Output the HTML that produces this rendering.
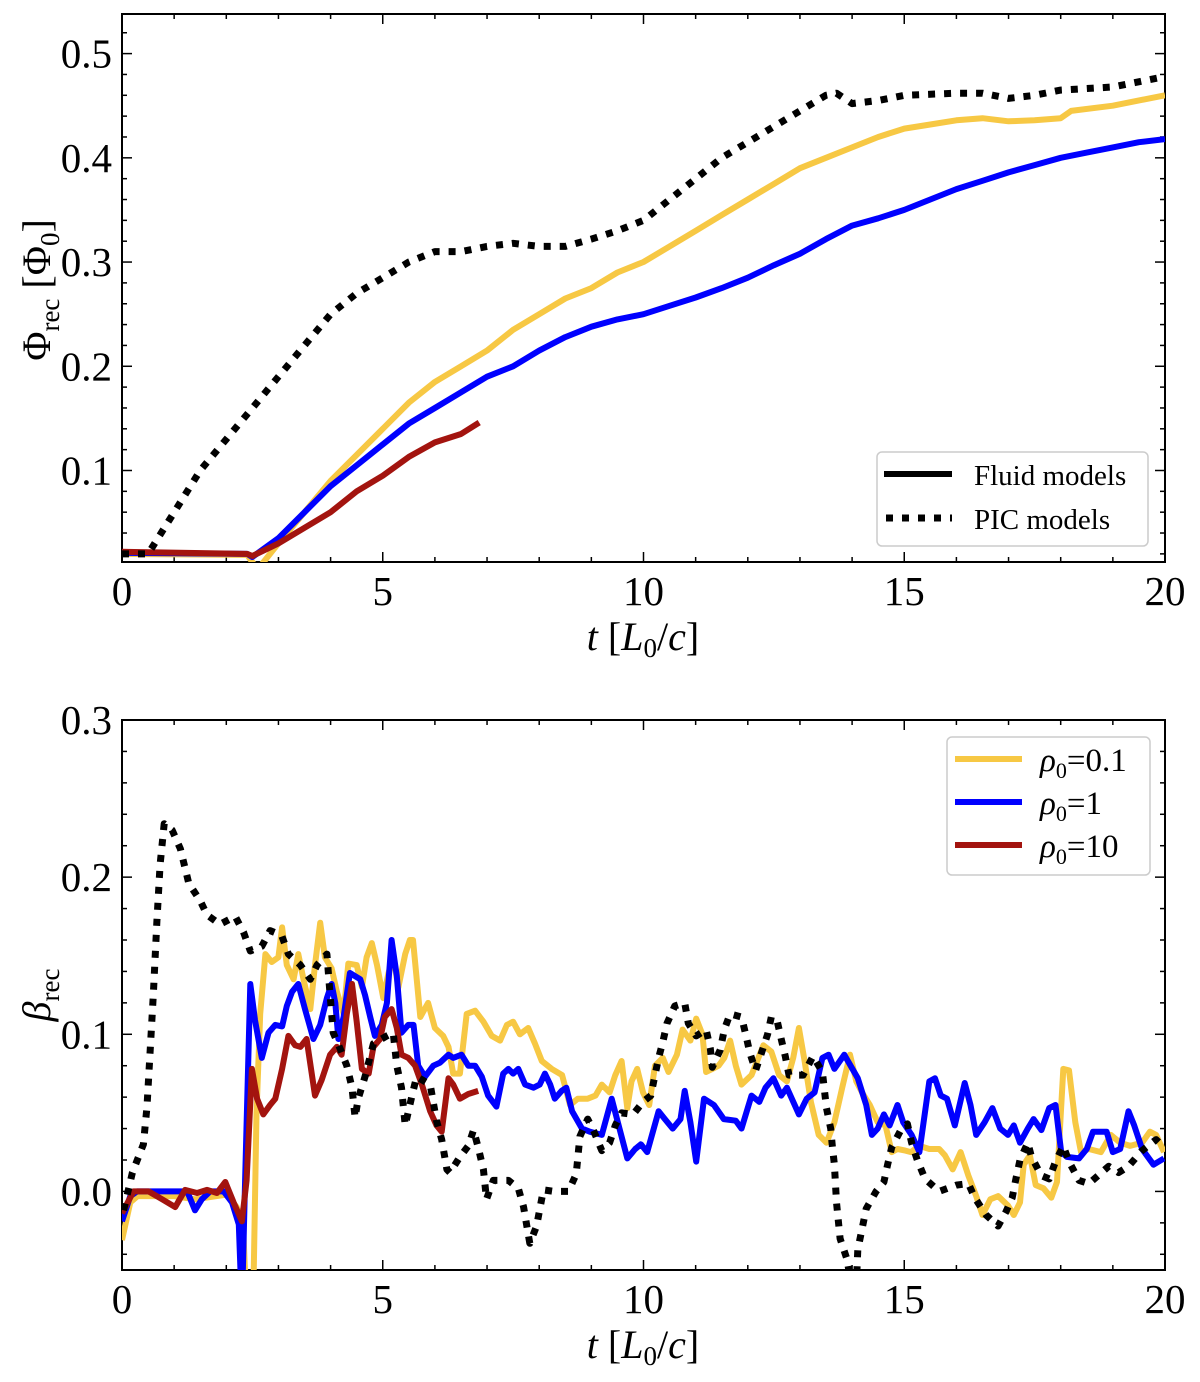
<!DOCTYPE html>
<html><head><meta charset="utf-8"><style>
html,body{margin:0;padding:0;background:#fff;}
svg text{font-family:"Liberation Serif",serif;fill:#000;}
</style></head><body>
<svg id="fig" width="1200" height="1377" viewBox="0 0 1200 1377" xmlns="http://www.w3.org/2000/svg">
<defs>
<clipPath id="clipTop"><rect x="122" y="14" width="1043" height="548"/></clipPath>
<clipPath id="clipBot"><rect x="122" y="720" width="1043" height="550"/></clipPath>
</defs>
<g id="top"></g>
<g id="bot"></g>
</svg>
<script>
// ---- Top panel data ----
const topPicT=[0,0.5,1,1.5,2,2.5,3,3.5,4,4.5,5,5.5,6,6.5,7,7.5,8,8.5,9,9.5,10,10.5,11,11.5,12,12.5,13,13.5,13.7,14,14.5,15,16,16.5,17,17.5,18,19,20];
const topPicV=[0.02,0.02,0.06,0.1,0.13,0.16,0.19,0.22,0.25,0.27,0.285,0.3,0.31,0.31,0.315,0.318,0.315,0.315,0.322,0.33,0.34,0.36,0.38,0.4,0.415,0.43,0.445,0.46,0.462,0.452,0.455,0.46,0.462,0.462,0.457,0.46,0.465,0.468,0.478];
const topYelT=[0,2.4,2.6,3,3.5,4,4.5,5,5.5,6,6.5,7,7.5,8,8.5,9,9.5,10,10.5,11,11.5,12,12.5,13,13.5,14,14.5,15,15.5,16,16.5,17,17.5,18,18.2,19,20];
const topYelV=[0.02,0.019,0.005,0.03,0.06,0.09,0.115,0.14,0.165,0.185,0.2,0.215,0.235,0.25,0.265,0.275,0.29,0.3,0.315,0.33,0.345,0.36,0.375,0.39,0.4,0.41,0.42,0.428,0.432,0.436,0.438,0.435,0.436,0.438,0.445,0.45,0.46];
const topBluT=[0,2.4,2.5,3,3.5,4,4.5,5,5.5,6,6.5,7,7.5,8,8.5,9,9.5,10,10.5,11,11.5,12,12.5,13,13.5,14,14.5,15,15.5,16,16.5,17,17.5,18,18.5,19,19.5,20];
const topBluV=[0.021,0.02,0.017,0.035,0.06,0.085,0.105,0.125,0.145,0.16,0.175,0.19,0.2,0.215,0.228,0.238,0.245,0.25,0.258,0.266,0.275,0.285,0.297,0.308,0.322,0.335,0.342,0.35,0.36,0.37,0.378,0.386,0.393,0.4,0.405,0.41,0.415,0.418];
const topRedT=[0,2.4,2.5,3,3.5,4,4.5,5,5.5,6,6.5,6.85];
const topRedV=[0.022,0.02,0.018,0.03,0.045,0.06,0.08,0.095,0.113,0.127,0.135,0.146];
const xTicks=[0,5,10,15,20];
const topYTicks=[0.1,0.2,0.3,0.4,0.5];
const botYTicks=[0.0,0.1,0.2,0.3];

// ---- Bottom panel data ----
const botPicT=[0.03,0.2,0.41,0.48,0.54,0.6,0.67,0.73,0.81,0.96,1.12,1.28,1.5,1.63,1.88,2.17,2.33,2.46,2.68,2.84,3.06,3.19,3.42,3.61,3.74,3.93,3.99,4.05,4.18,4.31,4.41,4.47,4.53,4.66,4.82,5.08,5.2,5.27,5.36,5.43,5.56,5.65,5.91,6.03,6.13,6.23,6.29,6.48,6.64,6.74,6.83,6.93,6.99,7.12,7.41,7.6,7.7,7.82,7.95,8.08,8.28,8.56,8.71,8.78,8.93,9.05,9.2,9.35,9.46,9.58,9.8,9.99,10.14,10.22,10.29,10.37,10.45,10.6,10.79,10.86,11.01,11.2,11.28,11.32,11.47,11.55,11.66,11.88,11.96,12.04,12.15,12.26,12.38,12.45,12.56,12.64,12.72,12.79,13.06,13.25,13.43,13.47,13.51,13.59,13.62,13.66,13.7,13.77,13.9,14.04,14.08,14.11,14.19,14.27,14.46,14.61,14.68,14.76,14.95,15.06,15.14,15.25,15.4,15.67,16.0,16.23,16.35,16.57,16.8,16.95,17.07,17.14,17.22,17.37,17.44,17.63,17.78,17.9,18.05,18.16,18.35,18.54,18.92,19.11,19.3,19.56,19.83,19.98];
const botPicV=[-0.012,0.012,0.03,0.054,0.09,0.125,0.172,0.208,0.234,0.23,0.218,0.196,0.185,0.176,0.17,0.175,0.165,0.153,0.156,0.166,0.163,0.151,0.144,0.135,0.144,0.151,0.125,0.101,0.091,0.08,0.066,0.047,0.059,0.073,0.094,0.099,0.101,0.08,0.066,0.042,0.061,0.073,0.068,0.045,0.033,0.014,0.012,0.022,0.029,0.039,0.028,0.014,-0.005,0.007,0.007,0.002,-0.01,-0.033,-0.022,0.001,0.0,0.0,0.011,0.035,0.046,0.038,0.026,0.031,0.042,0.05,0.049,0.057,0.061,0.074,0.085,0.095,0.107,0.118,0.12,0.107,0.099,0.103,0.091,0.079,0.09,0.103,0.113,0.111,0.1,0.088,0.077,0.088,0.1,0.111,0.109,0.097,0.086,0.074,0.074,0.086,0.076,0.064,0.053,0.04,0.029,0.017,-0.007,-0.03,-0.043,-0.07,-0.06,-0.037,-0.024,-0.011,0.0,0.006,0.017,0.028,0.04,0.043,0.031,0.02,0.008,0.0,0.004,0.005,-0.004,-0.015,-0.022,-0.013,-0.004,0.008,0.02,0.031,0.022,0.01,0.008,0.019,0.029,0.019,0.007,0.005,0.016,0.012,0.016,0.026,0.033,0.028,0.017];
const botYelT=[0,0.16,0.3,1.0,1.4,2.0,2.2,2.32,2.42,2.5,2.58,2.65,2.75,2.87,3.0,3.07,3.16,3.29,3.38,3.48,3.61,3.7,3.8,3.89,4.02,4.12,4.25,4.34,4.5,4.6,4.69,4.79,4.89,5.01,5.11,5.2,5.3,5.43,5.52,5.58,5.72,5.87,6.0,6.16,6.26,6.35,6.48,6.61,6.77,6.93,7.09,7.25,7.38,7.5,7.63,7.79,7.92,8.05,8.24,8.44,8.59,8.74,8.93,9.08,9.2,9.35,9.46,9.58,9.69,9.77,9.88,9.99,10.11,10.22,10.37,10.48,10.64,10.75,10.9,11.01,11.13,11.2,11.32,11.44,11.55,11.66,11.77,11.88,12.07,12.3,12.45,12.6,12.75,12.87,12.98,13.09,13.21,13.36,13.51,13.66,13.81,13.96,14.08,14.19,14.34,14.49,14.64,14.76,14.87,15.02,15.13,15.29,15.48,15.67,15.78,15.93,16.08,16.23,16.38,16.5,16.65,16.8,16.99,17.1,17.22,17.29,17.41,17.52,17.67,17.82,17.93,18.05,18.16,18.28,18.39,18.54,18.77,18.96,19.14,19.33,19.56,19.71,19.83,19.98];
const botYelV=[-0.031,-0.007,-0.003,-0.003,-0.005,-0.002,-0.01,-0.02,-0.1,-0.1,0.05,0.113,0.151,0.146,0.149,0.168,0.144,0.135,0.151,0.135,0.116,0.144,0.171,0.149,0.142,0.127,0.113,0.145,0.144,0.13,0.149,0.158,0.144,0.123,0.139,0.149,0.13,0.151,0.16,0.16,0.111,0.12,0.104,0.099,0.092,0.075,0.075,0.113,0.115,0.108,0.099,0.096,0.106,0.108,0.1,0.104,0.094,0.083,0.078,0.074,0.055,0.059,0.059,0.061,0.068,0.063,0.074,0.083,0.053,0.07,0.078,0.063,0.055,0.08,0.085,0.076,0.087,0.103,0.096,0.11,0.1,0.076,0.078,0.08,0.085,0.096,0.08,0.068,0.074,0.093,0.089,0.074,0.07,0.085,0.104,0.083,0.057,0.036,0.031,0.044,0.066,0.087,0.07,0.063,0.055,0.044,0.042,0.025,0.027,0.026,0.025,0.029,0.027,0.027,0.023,0.014,0.025,0.01,-0.003,-0.015,-0.005,-0.003,-0.009,-0.015,-0.007,0.017,0.023,0.004,0.002,-0.004,0.006,0.078,0.077,0.044,0.025,0.027,0.025,0.036,0.031,0.029,0.031,0.038,0.036,0.025];
const botBluT=[0,0.16,0.29,0.86,1.25,1.4,1.53,1.69,1.95,2.11,2.24,2.3,2.36,2.46,2.55,2.68,2.81,2.94,3.07,3.16,3.26,3.38,3.51,3.67,3.8,3.93,4.02,4.09,4.15,4.25,4.37,4.57,4.66,4.76,4.85,4.98,5.08,5.17,5.27,5.36,5.49,5.59,5.68,5.81,5.97,6.1,6.26,6.35,6.51,6.64,6.77,6.9,7.02,7.18,7.31,7.41,7.5,7.6,7.73,7.89,8.01,8.11,8.21,8.3,8.43,8.52,8.63,8.82,8.97,9.2,9.39,9.54,9.69,9.84,9.95,10.07,10.29,10.41,10.56,10.71,10.79,10.9,11.01,11.16,11.35,11.54,11.77,11.88,12.07,12.22,12.34,12.49,12.64,12.75,12.98,13.13,13.28,13.43,13.55,13.66,13.85,14.11,14.27,14.38,14.49,14.61,14.72,14.87,14.98,15.14,15.29,15.48,15.59,15.7,15.82,15.97,16.16,16.27,16.38,16.54,16.69,16.84,16.99,17.1,17.22,17.37,17.48,17.63,17.78,17.9,18.01,18.12,18.35,18.5,18.62,18.88,19.0,19.14,19.3,19.41,19.56,19.78,19.98];
const botBluV=[-0.019,-0.003,0.0,0.0,0.0,-0.012,-0.005,0.0,0.0,-0.007,-0.021,-0.075,0.007,0.132,0.109,0.085,0.101,0.106,0.105,0.118,0.127,0.132,0.116,0.097,0.106,0.123,0.132,0.12,0.097,0.111,0.139,0.135,0.125,0.111,0.099,0.106,0.12,0.16,0.137,0.101,0.106,0.106,0.08,0.073,0.08,0.082,0.087,0.085,0.087,0.08,0.08,0.073,0.061,0.054,0.075,0.078,0.075,0.078,0.068,0.066,0.068,0.075,0.068,0.059,0.064,0.066,0.051,0.04,0.038,0.036,0.059,0.04,0.021,0.027,0.03,0.025,0.051,0.046,0.04,0.046,0.064,0.044,0.019,0.059,0.055,0.046,0.045,0.04,0.061,0.057,0.066,0.072,0.061,0.066,0.049,0.059,0.063,0.085,0.087,0.078,0.087,0.072,0.055,0.036,0.04,0.049,0.042,0.055,0.044,0.036,0.025,0.07,0.072,0.061,0.059,0.042,0.069,0.055,0.036,0.044,0.053,0.04,0.036,0.042,0.031,0.04,0.046,0.039,0.053,0.055,0.025,0.022,0.021,0.027,0.038,0.038,0.025,0.027,0.051,0.042,0.027,0.017,0.021];
const botRedT=[0,0.22,0.51,0.77,1.02,1.21,1.44,1.63,1.82,1.98,2.14,2.3,2.39,2.49,2.59,2.71,2.84,2.94,3.07,3.19,3.32,3.42,3.54,3.7,3.83,3.99,4.12,4.21,4.31,4.41,4.5,4.6,4.73,4.82,4.95,5.04,5.17,5.27,5.36,5.49,5.62,5.75,5.91,6.03,6.13,6.26,6.35,6.48,6.64,6.83];
const botRedV=[-0.014,0,0,-0.005,-0.01,0.001,-0.001,0.001,-0.001,0.006,-0.007,-0.019,0.007,0.078,0.059,0.049,0.055,0.059,0.078,0.099,0.093,0.092,0.097,0.061,0.071,0.087,0.092,0.087,0.113,0.132,0.108,0.078,0.075,0.092,0.097,0.111,0.116,0.104,0.087,0.085,0.08,0.068,0.051,0.042,0.038,0.072,0.068,0.059,0.062,0.064];

const NS='http://www.w3.org/2000/svg';
function mk(tag,attrs,parent){const e=document.createElementNS(NS,tag);for(const k in attrs)e.setAttribute(k,attrs[k]);parent.appendChild(e);return e;}
const X0=122,X1=1165;
function sx(t){return X0+(t/20)*(X1-X0);}
const topG=document.getElementById('top'), botG=document.getElementById('bot');
const sTop=v=>562-(v-0.0122)/(0.538-0.0122)*(562-14);
const sBot=v=>1270-(v+0.05)/0.35*(1270-720);

function line(g,T,V,sy,color,dash,clip,name){
  let d='';T.forEach((t,i)=>{d+=(i?'L':'M')+sx(t).toFixed(1)+','+sy(V[i]).toFixed(1);});
  const p=mk('path',{d:d,fill:'none',stroke:color,'stroke-width':6,'stroke-linejoin':'round','clip-path':'url(#'+clip+')'},g);
  if(dash){p.setAttribute('stroke-dasharray','7,9');p.setAttribute('stroke-width','7');}
  
  
}
function axes(g,top,bottom,sy,ymin,ymax,yt,prefix){
  const f=mk('rect',{x:X0,y:top,width:X1-X0,height:bottom-top,fill:'none',stroke:'#000','stroke-width':2},g);
  
  
  for(let t=0;t<=20;t++){
    const L=(t%5===0)?10:5, x=sx(t);
    mk('line',{x1:x,y1:bottom,x2:x,y2:bottom-L,stroke:'#000','stroke-width':1.5},g);
    mk('line',{x1:x,y1:top,x2:x,y2:top+L,stroke:'#000','stroke-width':1.5},g);
  }
  xTicks.forEach(t=>{
    const tx=mk('text',{x:sx(t),y:bottom+43,'font-size':41,'text-anchor':'middle'},g);
    tx.textContent=String(t);
    
    
  });
  for(let k=Math.ceil(ymin/0.02-1e-6);k*0.02<=ymax+1e-9;k++){
    const v=k*0.02, y=sy(v), major=(k%5===0), L=major?10:5;
    mk('line',{x1:X0,y1:y,x2:X0+L,y2:y,stroke:'#000','stroke-width':1.5},g);
    mk('line',{x1:X1,y1:y,x2:X1-L,y2:y,stroke:'#000','stroke-width':1.5},g);
  }
  yt.forEach(v=>{
    const tx=mk('text',{x:X0-10,y:sy(v)+14,'font-size':41,'text-anchor':'end'},g);
    tx.textContent=v.toFixed(1);
    
    
  });
  const xl=mk('text',{x:643,y:bottom+88,'font-size':40,'text-anchor':'middle'},g);
  xl.innerHTML='<tspan font-style="italic">t</tspan>  [<tspan font-style="italic">L</tspan><tspan font-size="27" dy="7">0</tspan><tspan dy="-7">/</tspan><tspan font-style="italic">c</tspan>]';
  
  
}
axes(topG,14,562,sTop,0.0122,0.538,topYTicks,'top');
axes(botG,720,1270,sBot,-0.05,0.3,botYTicks,'bottom');

const yl1=mk('text',{transform:'translate(50,290) rotate(-90)','font-size':40,'text-anchor':'middle'},topG);
yl1.innerHTML='Φ<tspan font-size="27" dy="9">rec</tspan><tspan dy="-9">  [Φ</tspan><tspan font-size="27" dy="9">0</tspan><tspan dy="-9">]</tspan>';


const yl2=mk('text',{transform:'translate(50,995) rotate(-90)','font-size':40,'text-anchor':'middle'},botG);
yl2.innerHTML='<tspan font-style="italic">β</tspan><tspan font-size="27" dy="9">rec</tspan>';



const YEL='#f7c844',BLU='#0000ff',RED='#a3140f';
line(topG,topYelT,topYelV,sTop,YEL,false,'clipTop','top-line-rho-0.1');
line(topG,topBluT,topBluV,sTop,BLU,false,'clipTop','top-line-rho-1');
line(topG,topRedT,topRedV,sTop,RED,false,'clipTop','top-line-rho-10');
line(topG,topPicT,topPicV,sTop,'#000',true,'clipTop','top-line-pic');
line(botG,botYelT,botYelV,sBot,YEL,false,'clipBot','bottom-line-rho-0.1');
line(botG,botBluT,botBluV,sBot,BLU,false,'clipBot','bottom-line-rho-1');
line(botG,botRedT,botRedV,sBot,RED,false,'clipBot','bottom-line-rho-10');
line(botG,botPicT,botPicV,sBot,'#000',true,'clipBot','bottom-line-pic');

const lg1=mk('g',{},topG);


mk('rect',{x:877,y:452,width:271,height:94,rx:5,fill:'#fff',stroke:'#ccc','stroke-width':1.5},lg1);
mk('line',{x1:884,y1:474,x2:952,y2:474,stroke:'#000','stroke-width':6},lg1);
mk('line',{x1:886,y1:518,x2:952,y2:518,stroke:'#000','stroke-width':7,'stroke-dasharray':'7,9'},lg1);
const a=mk('text',{x:974,y:485,'font-size':29},lg1);a.textContent='Fluid models';


const b=mk('text',{x:974,y:529,'font-size':29},lg1);b.textContent='PIC models';



const lg2=mk('g',{},botG);


mk('rect',{x:947,y:737,width:203,height:138,rx:5,fill:'#fff',stroke:'#ccc','stroke-width':1.5},lg2);
[[YEL,'0.1',759],[BLU,'1',802],[RED,'10',845]].forEach(([c,lbl,y])=>{
  mk('line',{x1:955,y1:y,x2:1022,y2:y,stroke:c,'stroke-width':6},lg2);
  const t=mk('text',{x:1040,y:y+12,'font-size':33},lg2);
  t.innerHTML='<tspan font-style="italic">ρ</tspan><tspan font-size="22" dy="7">0</tspan><tspan dy="-7">=</tspan>'+lbl;
  
  
});
</script>
</body></html>
